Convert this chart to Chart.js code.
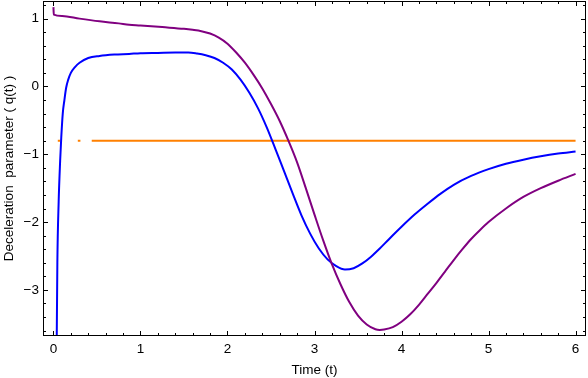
<!DOCTYPE html>
<html>
<head>
<meta charset="utf-8">
<script src="https://cdn.jsdelivr.net/npm/chart.js@4"></script>
<style>
  body { margin: 0; background: #fff; }
  #wrap { width: 588px; height: 378px; }
</style>
</head>
<body>
<div id="wrap"><canvas id="myChart" width="588" height="378"></canvas></div>
<script>
// data
var purpleT = [0, 0.004, 0.1, 0.3, 0.53, 0.75, 0.87, 1.0, 1.25, 1.5, 1.6, 1.7, 1.8, 1.9, 2.0, 2.1, 2.2, 2.3, 2.4, 2.5, 2.6, 2.7, 2.8, 2.9, 3.0, 3.1, 3.2, 3.3, 3.4, 3.5, 3.6, 3.7, 3.75, 3.8, 3.9, 4.0, 4.1, 4.2, 4.3, 4.4, 4.5, 4.6, 4.7, 4.8, 4.9, 5.0, 5.2, 5.4, 5.6, 5.8, 6.0];
var purpleQ = [1.17, 1.06, 1.04, 1.0, 0.96, 0.93, 0.91, 0.9, 0.875, 0.85, 0.835, 0.815, 0.78, 0.72, 0.63, 0.5, 0.35, 0.17, -0.03, -0.26, -0.51, -0.8, -1.12, -1.5, -1.89, -2.27, -2.62, -2.92, -3.18, -3.38, -3.51, -3.58, -3.59, -3.585, -3.55, -3.47, -3.36, -3.22, -3.06, -2.9, -2.73, -2.56, -2.4, -2.25, -2.12, -2.0, -1.8, -1.63, -1.5, -1.39, -1.29];

var blueT = [0.03, 0.045, 0.06, 0.077, 0.09, 0.107, 0.126, 0.146, 0.17, 0.2, 0.25, 0.3, 0.4, 0.53, 0.7, 0.87, 1.0, 1.2, 1.4, 1.55, 1.65, 1.75, 1.85, 1.95, 2.05, 2.15, 2.25, 2.35, 2.45, 2.55, 2.65, 2.75, 2.85, 2.95, 3.05, 3.15, 3.25, 3.35, 3.45, 3.55, 3.65, 3.75, 3.85, 4.0, 4.15, 4.3, 4.45, 4.6, 4.8, 5.0, 5.2, 5.4, 5.6, 5.8, 6.0];
var blueQ = [-5.0, -2.6, -1.7, -1.1, -0.75, -0.4, -0.2, -0.02, 0.1, 0.2, 0.29, 0.35, 0.42, 0.45, 0.47, 0.48, 0.49, 0.495, 0.5, 0.5, 0.485, 0.46, 0.42, 0.35, 0.25, 0.1, -0.09, -0.32, -0.6, -0.92, -1.25, -1.58, -1.9, -2.17, -2.39, -2.55, -2.65, -2.7, -2.68, -2.61, -2.51, -2.39, -2.26, -2.07, -1.89, -1.73, -1.58, -1.45, -1.32, -1.22, -1.14, -1.08, -1.03, -0.99, -0.96];

var orangeT = [0.05, 0.08, 0.1, 0.28, 0.31, 0.35, 0.44, 6.0];
var orangeQ = [-0.8, -0.8, null, -0.8, -0.8, null, -0.8, -0.8];

var xTicks = [0, 1, 2, 3, 4, 5, 6];
var yTicks = [-3, -2, -1, 0, 1];

var xMin = -0.12, xMax = 6.12;
var yMin = -3.68, yMax = 1.26;

function pts(t, q) {
    return t.map(function(v, i) { return {x: v, y: q[i]}; });
}

var font = {family: '"Liberation Sans", Arial, sans-serif', size: 13.5};

// frame with inward ticks on all four sides, like the original
var frameTicks = {
    id: 'frameTicks',
    afterDraw: function(chart) {
        var c = chart.ctx, a = chart.chartArea;
        var xs = chart.scales.x, ys = chart.scales.y;
        c.save();
        c.strokeStyle = '#000';
        c.lineWidth = 1;
        c.strokeRect(Math.round(a.left) + 0.5, Math.round(a.top) + 0.5,
            Math.round(a.right - a.left) - 1, Math.round(a.bottom - a.top) - 1);
        c.beginPath();
        for (var k = Math.ceil(xMin * 5); k <= Math.floor(xMax * 5); k++) {
            var px = Math.round(xs.getPixelForValue(k / 5)) + 0.5;
            var len = k % 5 === 0 ? 5 : 3;
            c.moveTo(px, a.bottom); c.lineTo(px, a.bottom - len);
            c.moveTo(px, a.top); c.lineTo(px, a.top + len);
        }
        for (var j = Math.ceil(yMin * 5); j <= Math.floor(yMax * 5); j++) {
            var py = Math.round(ys.getPixelForValue(j / 5)) + 0.5;
            var l2 = j % 5 === 0 ? 5 : 3;
            c.moveTo(a.left, py); c.lineTo(a.left + l2, py);
            c.moveTo(a.right, py); c.lineTo(a.right - l2, py);
        }
        c.stroke();
        c.restore();
    }
};

var ctx = document.getElementById('myChart').getContext('2d');
var chart = new Chart(ctx, {
    type: 'line',
    data: {
        datasets: [{
            data: pts(purpleT, purpleQ),
            borderColor: 'rgb(128, 0, 128)',
            borderWidth: 2,
            cubicInterpolationMode: 'monotone'
        }, {
            data: pts(blueT, blueQ),
            borderColor: 'rgb(0, 0, 255)',
            borderWidth: 2,
            cubicInterpolationMode: 'monotone'
        }, {
            data: pts(orangeT, orangeQ),
            borderColor: 'rgb(255, 128, 0)',
            borderWidth: 2,
            spanGaps: false
        }]
    },
    options: {
        responsive: false,
        animation: false,
        devicePixelRatio: 1,
        elements: {point: {radius: 0}},
        layout: {padding: {top: 1, right: 2, left: 0, bottom: 0}},
        plugins: {legend: {display: false}, tooltip: {enabled: false}},
        scales: {
            x: {
                type: 'linear',
                min: xMin,
                max: xMax,
                afterBuildTicks: function(s) { s.ticks = xTicks.map(function(v) { return {value: v}; }); },
                afterFit: function(s) { s.height = 42; s.paddingLeft = 0; s.paddingRight = 0; },
                grid: {display: false, drawTicks: false},
                border: {display: false},
                ticks: {font: font, color: '#000', padding: 5, maxRotation: 0, autoSkip: false},
                title: {display: true, text: 'Time (t)', font: font, color: '#000', padding: {top: 0, bottom: 0}}
            },
            y: {
                type: 'linear',
                min: yMin,
                max: yMax,
                afterBuildTicks: function(s) { s.ticks = yTicks.map(function(v) { return {value: v}; }); },
                afterFit: function(s) { s.width = 43; s.paddingTop = 0; s.paddingBottom = 0; },
                grid: {display: false, drawTicks: false},
                border: {display: false},
                ticks: {
                    font: font, color: '#000', padding: 4, autoSkip: false,
                    callback: function(v) { return v < 0 ? '\u2212' + Math.abs(v) : String(v); }
                },
                title: {display: true, text: 'Deceleration  parameter ( q(t) )', font: font, color: '#000', padding: {top: 1, bottom: 0}}
            }
        }
    },
    plugins: [frameTicks]
});
</script>
</body>
</html>
